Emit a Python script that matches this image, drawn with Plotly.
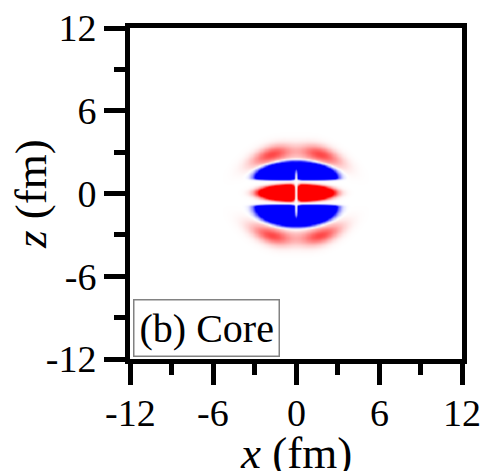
import numpy as np
import plotly.graph_objects as go

# Axis extents and tick labels (fm)
AXIS_RANGE = [-12, 12]
MAJOR_TICKS = [-12, -6, 0, 6, 12]
MINOR_TICKS = [-9, -3, 3, 9]
TICK_TEXT = ["-12", "-6", "0", "6", "12"]
PANEL_LABEL = "(b) Core"
X_TITLE = "<i>x</i> (fm)"
Z_TITLE = "<i>z</i> (fm)"

# Lobe parameters of the core density pattern (fm):
# central red band, split by a node at x = 0
CORE_Z = 0.06
CORE_HALF_W = 2.5
CORE_HALF_H = 0.56
CORE_AMP = 4.0
# blue domes above and below (base z, half-width, height)
DOME_BASE_Z = [1.15, -0.95]
DOME_HALF_W = 2.8
DOME_HEIGHT = [1.12, 1.35]
DOME_AMP = -4.0
# faint outer red arcs (apex z, curvature, lobe x, widths)
ARC_APEX_Z = [3.05, -3.25]
ARC_CURV = 0.07
ARC_X = [-1.75, 1.75]
ARC_W_X = 1.45
ARC_W_Z = 0.6
ARC_AMP = 0.72

step = 0.04
xs = np.arange(-6, 6 + step / 2, step)
zs = np.arange(-6, 6 + step / 2, step)
X, Z = np.meshgrid(xs, zs)

field = np.zeros_like(X)

# central red band
r2 = (X / CORE_HALF_W) ** 2 + ((Z - CORE_Z) / CORE_HALF_H) ** 2
field += CORE_AMP * np.exp(-r2 ** 2)

# blue domes: arched on the outside, flat towards the centre
for zb, h in zip(DOME_BASE_Z, DOME_HEIGHT):
    sgn = np.sign(zb)
    dz = (Z - zb) * sgn
    u = (X / DOME_HALF_W) ** 2 + (np.clip(dz, 0, None) / h) ** 2
    inner = np.exp(-(np.clip(-dz, 0, None) / 0.12) ** 2)
    field += DOME_AMP * np.exp(-u ** 3) * inner

# outer arcs
for za in ARC_APEX_Z:
    sgn = np.sign(za)
    zc = za - sgn * ARC_CURV * X ** 2
    band = np.exp(-((Z - zc) / ARC_W_Z) ** 2)
    prof = sum(np.exp(-((X - ax) / ARC_W_X) ** 2) for ax in ARC_X)
    field += ARC_AMP * band * prof

# nodal line along x = 0 through the inner lobes
node = 1 - np.exp(-(X / 0.25) ** 2) * np.exp(-(Z / 2.1) ** 8)
field *= node

fig = go.Figure(
    go.Heatmap(
        x=xs,
        y=zs,
        z=field,
        zmin=-1,
        zmax=1,
        zsmooth="best",
        colorscale=[[0, "rgb(0,0,255)"], [0.5, "rgb(255,255,255)"], [1, "rgb(255,0,0)"]],
        showscale=False,
        hoverinfo="skip",
    )
)

serif = "Liberation Serif, Times New Roman, serif"
tick_font = dict(family=serif, size=38, color="black")
axis_common = dict(
    range=AXIS_RANGE,
    tickmode="array",
    tickvals=MAJOR_TICKS,
    ticktext=TICK_TEXT,
    ticks="outside",
    ticklen=21,
    tickwidth=5,
    tickcolor="black",
    showline=True,
    linewidth=5,
    linecolor="black",
    mirror=True,
    showgrid=False,
    zeroline=False,
    automargin=False,
    tickfont=tick_font,
    minor=dict(tickvals=MINOR_TICKS, ticks="outside", ticklen=11, tickwidth=5, tickcolor="black"),
)

title_font = dict(family=serif, size=45, color="black")

# x tick labels set a little closer to the ticks than the default spacing
x_tick_labels = [
    dict(
        text=t,
        x=v,
        y=-0.162,
        xref="x",
        yref="paper",
        xanchor="center",
        yanchor="middle",
        showarrow=False,
        font=tick_font,
    )
    for v, t in zip(MAJOR_TICKS, TICK_TEXT)
]

fig.update_layout(
    width=485,
    height=471,
    margin=dict(l=130, r=23, t=28, b=112),
    paper_bgcolor="white",
    plot_bgcolor="white",
    xaxis=dict(**axis_common, showticklabels=False),
    yaxis=dict(**axis_common),
    annotations=x_tick_labels
    + [
        dict(
            text=X_TITLE,
            x=0.5,
            y=-0.285,
            xref="paper",
            yref="paper",
            xanchor="center",
            yanchor="middle",
            showarrow=False,
            font=title_font,
        ),
        dict(
            text=Z_TITLE,
            x=-0.3,
            y=0.5,
            xref="paper",
            yref="paper",
            xanchor="center",
            yanchor="middle",
            textangle=-90,
            showarrow=False,
            font=title_font,
        ),
        dict(
            text=PANEL_LABEL,
            x=-11.78,
            y=-11.85,
            xref="x",
            yref="y",
            xanchor="left",
            yanchor="bottom",
            showarrow=False,
            font=dict(family=serif, size=40, color="black"),
            bgcolor="white",
            bordercolor="rgb(130,130,130)",
            borderwidth=1.5,
            borderpad=5,
        ),
    ],
)

fig.write_html("out.html")
